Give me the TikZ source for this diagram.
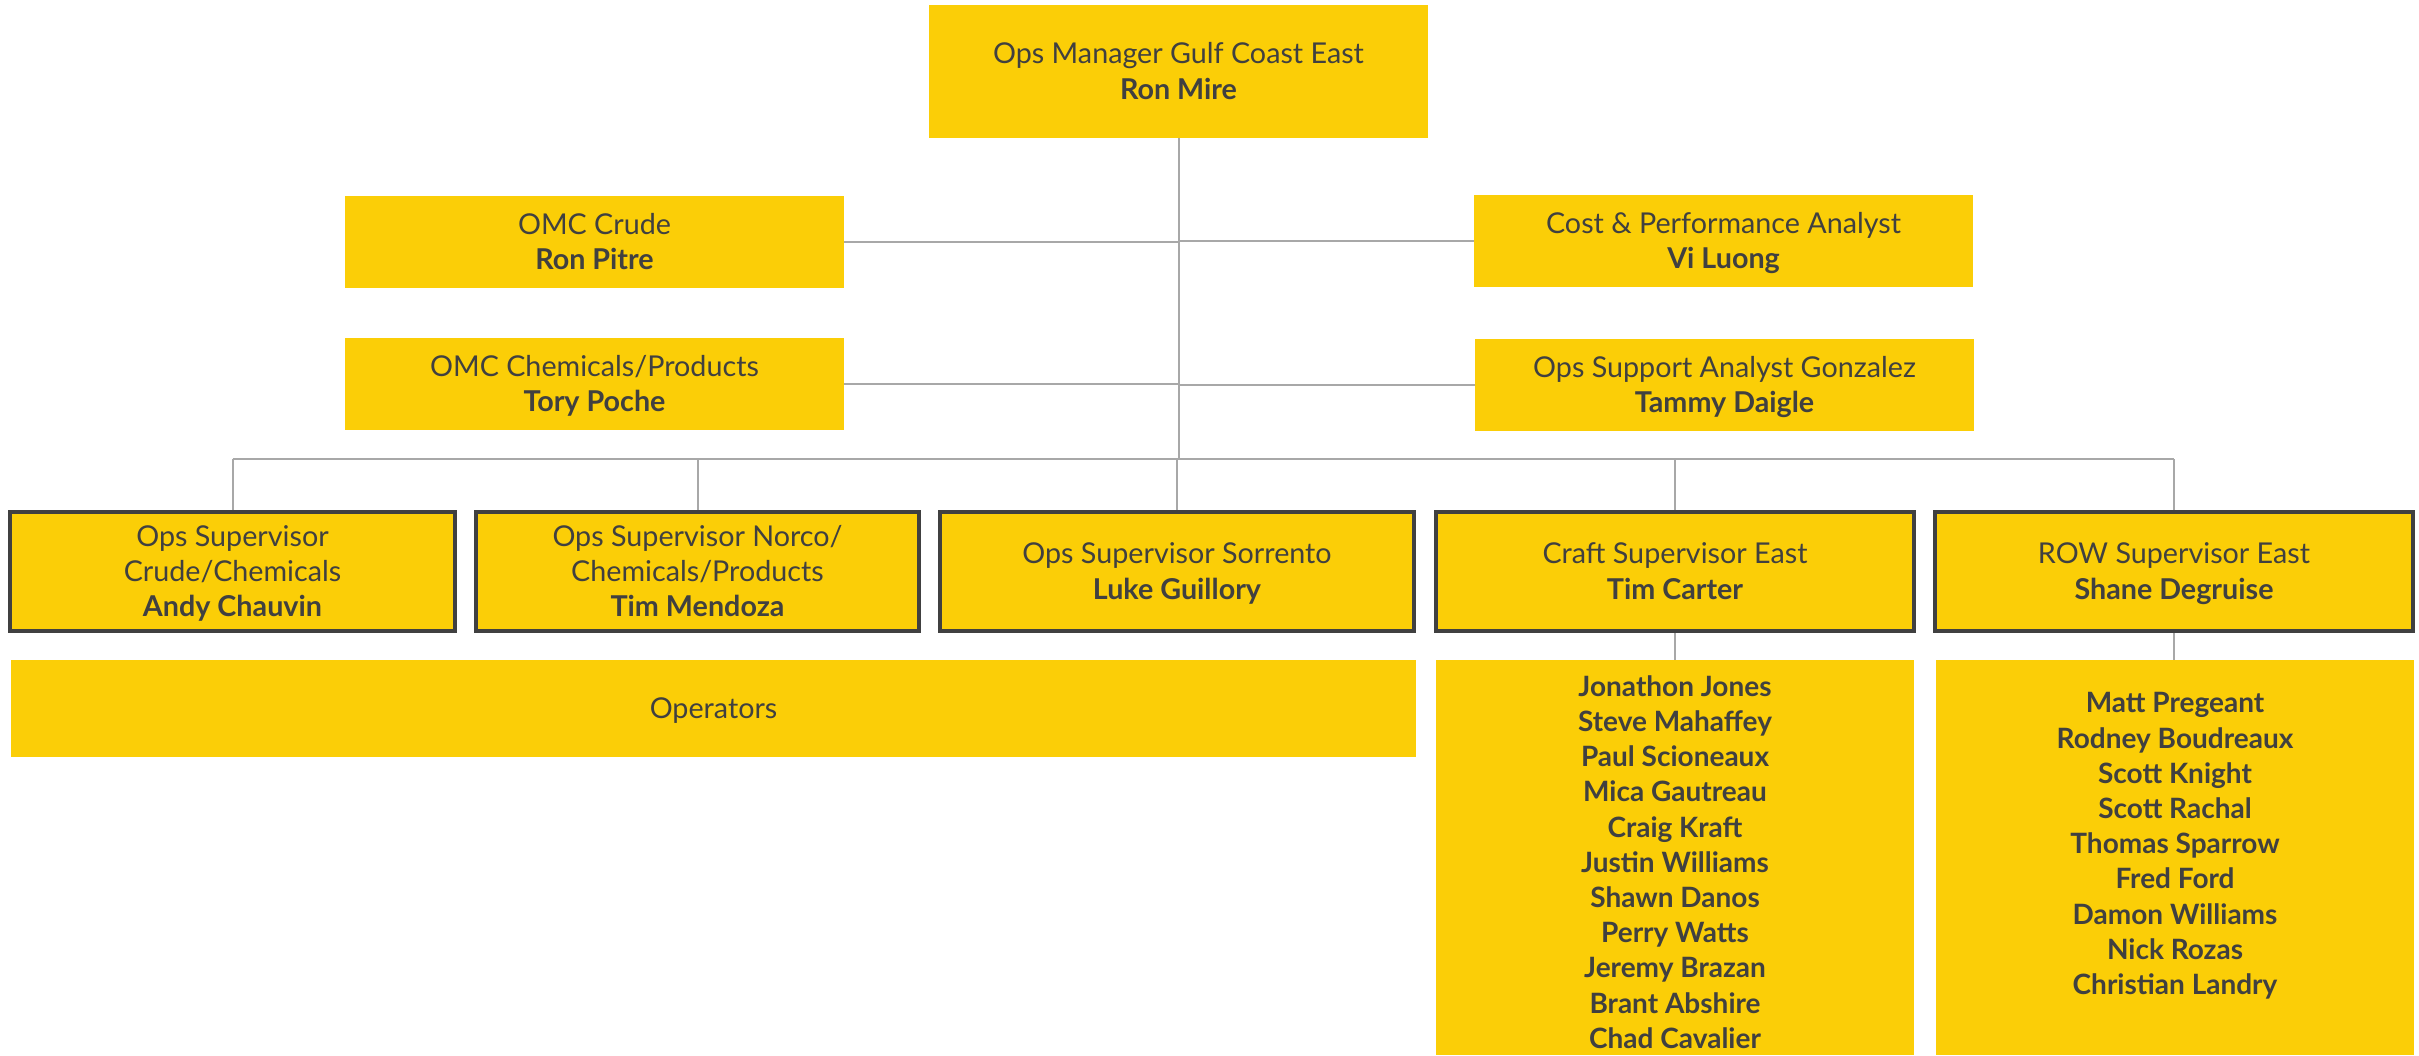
\documentclass[tikz,border=0pt]{standalone}
\usepackage{fontspec}
\setmainfont{Lato}
\definecolor{shell}{HTML}{FBCE07}
\definecolor{txt}{HTML}{404040}
\definecolor{dark}{HTML}{404040}
\definecolor{linegray}{HTML}{A8A8A8}
\newcommand{\boxlines}[1]{\raisebox{-3pt}[\height][\depth]{\begin{tabular}{@{}c@{}}#1\end{tabular}}}
\begin{document}
\begin{tikzpicture}[x=1pt,y=-1pt,
  box/.style={fill=shell, draw=none, inner sep=0pt, align=center, text=txt,
    font=\fontsize{28.7}{35.4}\selectfont},
  supbox/.style={box, draw=dark, line width=4pt},
  listtext/.style={box, font=\fontsize{28}{35.2}\selectfont\bfseries},
  conn/.style={draw=linegray, line width=2pt}]
\useasboundingbox (0,0) rectangle (2419,1055);
% top level
\node[box, minimum width=499pt, minimum height=133pt] (top) at (1178.5,71.5)
  {\boxlines{Ops Manager Gulf Coast East\\\textbf{Ron Mire}}};
\node[box, minimum width=499pt, minimum height=92pt] (crude) at (594.5,242)
  {\boxlines{OMC Crude\\\textbf{Ron Pitre}}};
\node[box, minimum width=499pt, minimum height=92pt] (chem) at (594.5,384)
  {\boxlines{OMC Chemicals/Products\\\textbf{Tory Poche}}};
\node[box, minimum width=499pt, minimum height=92pt] (cost) at (1723.5,241)
  {\boxlines{Cost \& Performance Analyst\\\textbf{Vi Luong}}};
\node[box, minimum width=499pt, minimum height=92pt] (support) at (1724.5,385)
  {\boxlines{Ops Support Analyst Gonzalez\\\textbf{Tammy Daigle}}};
% supervisors
\node[supbox, minimum width=445pt, minimum height=119pt] (s1) at (232.5,571.5)
  {\boxlines{Ops Supervisor\\Crude/Chemicals\\\textbf{Andy Chauvin}}};
\node[supbox, minimum width=443pt, minimum height=119pt] (s2) at (697.5,571.5)
  {\boxlines{Ops Supervisor Norco/\\Chemicals/Products\\\textbf{Tim Mendoza}}};
\node[supbox, minimum width=474pt, minimum height=119pt] (s3) at (1177,571.5)
  {\boxlines{Ops Supervisor Sorrento\\\textbf{Luke Guillory}}};
\node[supbox, minimum width=478pt, minimum height=119pt] (s4) at (1675,571.5)
  {\boxlines{Craft Supervisor East\\\textbf{Tim Carter}}};
\node[supbox, minimum width=478pt, minimum height=119pt] (s5) at (2174,571.5)
  {\boxlines{ROW Supervisor East\\\textbf{Shane Degruise}}};
% lower boxes
\node[box, minimum width=1405pt, minimum height=97pt] (ops) at (713.5,708) {\boxlines{Operators}};
\node[box, minimum width=478pt, minimum height=395pt] (l4) at (1675,857.5) {};
\node[listtext] (l4t) at (1675,862)
  {Jonathon Jones\\Steve Mahaffey\\Paul Scioneaux\\Mica Gautreau\\Craig Kraft\\Justin Williams\\Shawn Danos\\Perry Watts\\Jeremy Brazan\\Brant Abshire\\Chad Cavalier};
\node[box, minimum width=478pt, minimum height=395pt] (l5) at (2175,857.5) {};
\node[listtext] (l5t) at (2175,846)
  {Matt Pregeant\\Rodney Boudreaux\\Scott Knight\\Scott Rachal\\Thomas Sparrow\\Fred Ford\\Damon Williams\\Nick Rozas\\Christian Landry};
% connectors
\coordinate (bus) at (1178,459);
\draw[conn] (top.south) -- (top.south |- bus);
\draw[conn] (s1.north |- bus) -- (s5.north |- bus);
\foreach \s in {s1,s2,s3,s4,s5} \draw[conn] (\s.north |- bus) -- (\s.north);
\draw[conn] (crude.east) -- (crude.east -| top.south);
\draw[conn] (chem.east) -- (chem.east -| top.south);
\draw[conn] (cost.west) -- (cost.west -| top.south);
\draw[conn] (support.west) -- (support.west -| top.south);
\draw[conn] (s4.south) -- (l4.north);
\draw[conn] (s5.south) -- (s5.south |- l5.north);
\end{tikzpicture}
\end{document}
